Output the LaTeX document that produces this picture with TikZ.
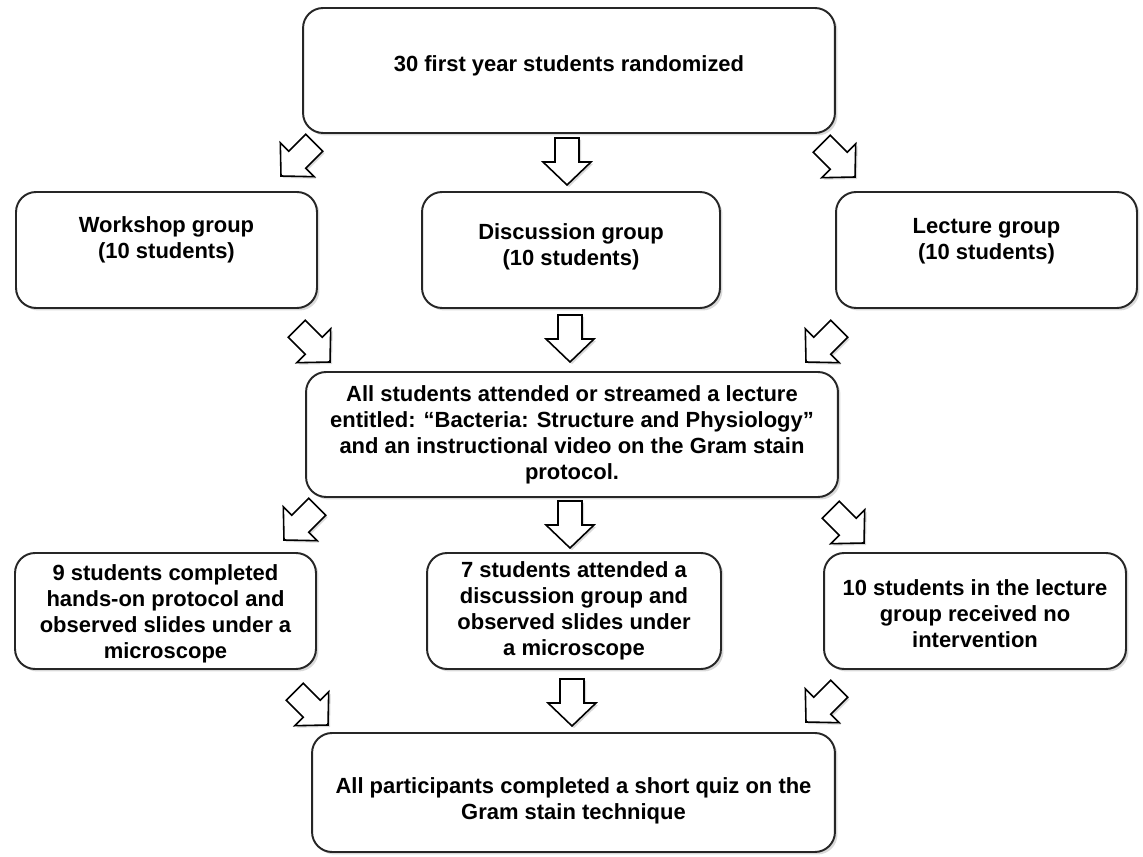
\documentclass[tikz,border=0pt]{standalone}
\usepackage{fontspec}
\setmainfont{Liberation Sans}
\usetikzlibrary{shadows}

\tikzset{
  flowbox/.style={draw=black!85, line width=1.1pt, rounded corners=0.4cm, fill=white,
    inner sep=0pt, drop shadow={shadow xshift=0.05cm, shadow yshift=-0.05cm, opacity=0.3}},
  flowtext/.style={align=center, inner sep=0pt, font=\fontsize{12.5}{14.8}\selectfont\bfseries},
  blockarrow/.pic={
    \draw[line width=0.9pt, fill=white, line join=miter,
      drop shadow={shadow xshift=0.04cm, shadow yshift=-0.04cm, opacity=0.3}]
      (0,0) -- (-24,-23) -- (-12,-23) -- (-12,-47) -- (12,-47) -- (12,-23) -- (24,-23) -- cycle;
  }
}

\begin{document}
\begin{tikzpicture}[x=0.02cm,y=-0.02cm]
\useasboundingbox (0,0) rectangle (1143,857);

% boxes
\node[flowbox, minimum width=10.64cm, minimum height=2.5cm] (rand) at (569,70.5) {};
\node[flowbox, minimum width=6.02cm, minimum height=2.32cm] (work) at (166.5,250) {};
\node[flowbox, minimum width=5.96cm, minimum height=2.32cm] (disc) at (571,250) {};
\node[flowbox, minimum width=6.02cm, minimum height=2.32cm] (lect) at (986.5,250) {};
\node[flowbox, minimum width=10.64cm, minimum height=2.5cm] (allstud) at (572,434.5) {};
\node[flowbox, minimum width=6.02cm, minimum height=2.32cm] (hands) at (165.5,611) {};
\node[flowbox, minimum width=5.88cm, minimum height=2.32cm] (discmic) at (574,611) {};
\node[flowbox, minimum width=6.04cm, minimum height=2.32cm] (nointer) at (975,611) {};
\node[flowbox, minimum width=10.46cm, minimum height=2.38cm] (quiz) at (573.5,792.5) {};

% texts
\node[flowtext] (rand-t) at (569,66) {30 first year students randomized};
\node[flowtext] (work-t) at (166.5,240) {Workshop group\\(10 students)};
\node[flowtext] (disc-t) at (571,247) {Discussion group\\(10 students)};
\node[flowtext] (lect-t) at (986.5,241) {Lecture group\\(10 students)};
\node[flowtext] (allstud-t) at (572,435) {All students attended or streamed a lecture\\entitled: “Bacteria: Structure and Physiology”\\and an instructional video on the Gram stain\\protocol.};
\node[flowtext] (hands-t) at (165.5,614) {9 students completed\\hands-on protocol and\\observed slides under a\\microscope};
\node[flowtext] (discmic-t) at (574,611) {7 students attended a\\discussion group and\\observed slides under\\a microscope};
\node[flowtext] (nointer-t) at (975,614) {10 students in the lecture\\group received no\\intervention};
\node[flowtext] (quiz-t) at (573.5,801) {All participants completed a short quiz on the\\Gram stain technique};

% block arrows (tip x, tip y, turn)
\foreach \x/\y/\a in {281/176/-45, 567/185/0, 855/177/45,
                      330/362/45, 570/362/0, 806/362/-45,
                      284/540/-45, 570/548/0, 864/543/45,
                      328/725/45, 572/726/0, 806/722/-45}
  \pic[rotate=\a] at (\x,\y) {blockarrow};
\end{tikzpicture}
\end{document}
